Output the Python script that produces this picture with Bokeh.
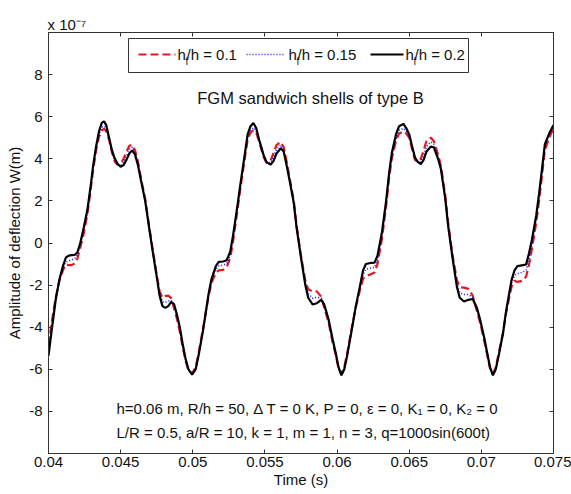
from bokeh.plotting import figure
from bokeh.models import (Range1d, FixedTicker, LinearAxis, Label, BoxAnnotation, Arrow, Title)
from bokeh.embed import file_html
from bokeh.resources import INLINE

# ---------------- data (deflection in units of 1e-7 m) ----------------
t = [0.04000, 0.04025, 0.04050, 0.04075, 0.04100, 0.04120, 0.04140, 0.04160, 0.04180, 0.04200,
     0.04220, 0.04245, 0.04270, 0.04290, 0.04310, 0.04330, 0.04350, 0.04370, 0.04385, 0.04400,
     0.04420, 0.04440, 0.04460, 0.04480, 0.04500, 0.04520, 0.04540, 0.04560, 0.04580, 0.04600,
     0.04620, 0.04640, 0.04670, 0.04700, 0.04720, 0.04750, 0.04770, 0.04790, 0.04810, 0.04830,
     0.04850, 0.04870, 0.04890, 0.04910, 0.04930, 0.04950, 0.04970, 0.04995, 0.05020, 0.05040,
     0.05070, 0.05090, 0.05110, 0.05130, 0.05160, 0.05180, 0.05210, 0.05235, 0.05260, 0.05280,
     0.05310, 0.05330, 0.05360, 0.05380, 0.05400, 0.05420, 0.05440, 0.05460, 0.05490, 0.05510,
     0.05540, 0.05560, 0.05580, 0.05610, 0.05630, 0.05650, 0.05670, 0.05700, 0.05720, 0.05750,
     0.05780, 0.05800, 0.05830, 0.05860, 0.05890, 0.05910, 0.05940, 0.05970, 0.05990, 0.06010,
     0.06030, 0.06050, 0.06070, 0.06100, 0.06130, 0.06160, 0.06180, 0.06200, 0.06230, 0.06260,
     0.06280, 0.06310, 0.06340, 0.06360, 0.06380, 0.06410, 0.06430, 0.06460, 0.06480, 0.06500,
     0.06520, 0.06540, 0.06560, 0.06580, 0.06600, 0.06620, 0.06650, 0.06670, 0.06700, 0.06720,
     0.06750, 0.06770, 0.06800, 0.06830, 0.06850, 0.06880, 0.06910, 0.06940, 0.06970, 0.06990,
     0.07020, 0.07040, 0.07060, 0.07080, 0.07100, 0.07120, 0.07150, 0.07170, 0.07190, 0.07210,
     0.07230, 0.07250, 0.07280, 0.07310, 0.07330, 0.07350, 0.07380, 0.07400, 0.07420, 0.07440,
     0.07470, 0.07500]

w_hf_02 = [-5.35, -4.00, -2.70, -1.75, -1.10, -0.70, -0.60, -0.58, -0.57, -0.45,
           0.00, 0.75, 1.60, 2.60, 3.70, 4.60, 5.30, 5.72, 5.78, 5.60,
           5.00, 4.40, 4.00, 3.75, 3.62, 3.70, 3.95, 4.25, 4.40, 4.20,
           3.70, 3.00, 2.00, 0.60, -0.30, -1.60, -2.50, -3.00, -3.08, -3.00,
           -2.80, -2.90, -3.40, -4.00, -4.80, -5.50, -6.00, -6.25, -6.00, -5.35,
           -4.20, -3.30, -2.40, -1.70, -1.10, -0.90, -0.88, -0.82, -0.40, 0.40,
           1.80, 2.80, 4.20, 5.16, 5.55, 5.70, 5.45, 4.90, 4.20, 3.85,
           3.72, 3.90, 4.25, 4.50, 4.35, 3.70, 3.00, 1.90, 0.70, -0.70,
           -2.00, -2.60, -2.92, -2.86, -2.70, -2.90, -3.60, -4.60, -5.20, -5.90,
           -6.29, -6.00, -5.35, -4.20, -3.00, -2.00, -1.30, -1.00, -0.95, -0.93,
           -0.60, 0.46, 2.00, 3.28, 4.30, 5.20, 5.55, 5.66, 5.45, 5.16,
           4.60, 4.06, 3.85, 3.75, 3.95, 4.35, 4.58, 4.55, 4.00, 3.50,
           2.10, 0.80, -0.70, -2.06, -2.60, -2.78, -2.70, -2.66, -3.10, -3.60,
           -4.50, -5.20, -5.90, -6.29, -6.00, -5.35, -4.30, -3.30, -2.50, -1.74,
           -1.30, -1.10, -1.06, -1.02, -0.50, 0.14, 1.30, 2.34, 3.50, 4.69,
           5.20, 5.60]

w_hf_015 = [-5.05, -3.80, -2.62, -1.78, -1.20, -0.90, -0.85, -0.80, -0.75, -0.58,
            -0.12, 0.60, 1.50, 2.50, 3.60, 4.50, 5.15, 5.50, 5.56, 5.45,
            4.95, 4.35, 3.92, 3.70, 3.66, 3.85, 4.15, 4.45, 4.55, 4.30,
            3.78, 3.08, 2.05, 0.65, -0.25, -1.55, -2.40, -2.80, -2.82, -2.76,
            -2.72, -3.00, -3.50, -4.10, -4.90, -5.55, -6.02, -6.22, -5.95, -5.30,
            -4.15, -3.30, -2.45, -1.80, -1.25, -1.10, -1.05, -0.98, -0.55, 0.25,
            1.68, 2.70, 4.10, 5.00, 5.38, 5.48, 5.30, 4.85, 4.15, 3.82,
            3.80, 4.10, 4.45, 4.65, 4.45, 3.80, 3.08, 1.95, 0.75, -0.65,
            -1.90, -2.40, -2.62, -2.58, -2.62, -2.98, -3.68, -4.68, -5.25, -5.92,
            -6.25, -5.95, -5.30, -4.15, -3.02, -2.10, -1.50, -1.25, -1.20, -1.15,
            -0.80, 0.30, 1.88, 3.15, 4.15, 5.00, 5.35, 5.45, 5.30, 5.05,
            4.52, 4.00, 3.82, 3.85, 4.15, 4.58, 4.80, 4.70, 4.10, 3.58,
            2.18, 0.88, -0.62, -1.90, -2.35, -2.45, -2.45, -2.58, -3.18, -3.68,
            -4.58, -5.25, -5.92, -6.25, -5.95, -5.30, -4.28, -3.35, -2.60, -1.90,
            -1.55, -1.45, -1.40, -1.30, -0.80, -0.10, 1.10, 2.15, 3.35, 4.55,
            5.10, 5.50]

w_hf_01 = [-4.85, -3.65, -2.58, -1.82, -1.30, -1.02, -1.05, -1.05, -0.98, -0.75,
           -0.22, 0.48, 1.40, 2.40, 3.50, 4.40, 5.05, 5.35, 5.42, 5.32,
           4.90, 4.30, 3.86, 3.70, 3.76, 4.00, 4.32, 4.62, 4.66, 4.40,
           3.85, 3.12, 2.10, 0.70, -0.20, -1.50, -2.30, -2.60, -2.52, -2.50,
           -2.62, -3.10, -3.60, -4.20, -4.95, -5.60, -6.05, -6.20, -5.90, -5.25,
           -4.10, -3.30, -2.50, -1.90, -1.40, -1.30, -1.28, -1.15, -0.70, 0.12,
           1.58, 2.60, 4.00, 4.90, 5.25, 5.35, 5.22, 4.82, 4.10, 3.82,
           3.92, 4.28, 4.65, 4.80, 4.55, 3.88, 3.15, 2.00, 0.80, -0.60,
           -1.80, -2.20, -2.30, -2.30, -2.55, -3.05, -3.75, -4.75, -5.30, -5.95,
           -6.22, -5.90, -5.25, -4.10, -3.05, -2.20, -1.70, -1.55, -1.50, -1.40,
           -1.00, 0.15, 1.75, 3.05, 4.05, 4.90, 5.20, 5.30, 5.20, 5.00,
           4.45, 3.95, 3.85, 4.00, 4.40, 4.85, 5.00, 4.85, 4.20, 3.65,
           2.25, 0.95, -0.55, -1.75, -2.10, -2.12, -2.18, -2.50, -3.25, -3.75,
           -4.65, -5.30, -5.95, -6.22, -5.90, -5.25, -4.25, -3.40, -2.70, -2.05,
           -1.80, -1.85, -1.80, -1.60, -1.05, -0.30, 0.95, 2.00, 3.20, 4.40,
           5.00, 5.45]

series_labels = ["0.1", "0.15", "0.2"]
xticks = [0.04, 0.045, 0.05, 0.055, 0.06, 0.065, 0.07, 0.075]
xtick_labels = ["0.04", "0.045", "0.05", "0.055", "0.06", "0.065", "0.07", "0.075"]
yticks = [-8, -6, -4, -2, 0, 2, 4, 6, 8]
ytick_labels = ["-8", "-6", "-4", "-2", "0", "2", "4", "6", "8"]

FONT = "Liberation Sans"
W, H = 571, 494
FL, FR, FT, FB = 48, 553, 32, 453   # frame edges (pixels)
X0, X1, Y0, Y1 = 0.04, 0.075, -10.0, 10.0

def sx(px):
    return X0 + (px - FL) * (X1 - X0) / (FR - FL)

def sy(py):
    return Y1 - (py - FT) * (Y1 - Y0) / (FB - FT)

p = figure(width=W, height=H, output_backend="svg", toolbar_location=None,
           x_range=Range1d(X0, X1), y_range=Range1d(Y0, Y1),
           min_border_left=FL, min_border_right=W - FR,
           min_border_top=FT, min_border_bottom=H - FB)
p.background_fill_color = "white"
p.border_fill_color = "white"
p.xgrid.visible = False
p.ygrid.visible = False
p.outline_line_color = "#333333"
p.outline_line_width = 1

RED, BLUE, BLACK = "#dd1a22", "#1a1aff", "#000000"
p.line(t, w_hf_01, line_color=RED, line_width=2.2, line_dash="8 4")
p.line(t, w_hf_015, line_color=BLUE, line_width=1.6, line_dash="1 2")
p.line(t, w_hf_02, line_color=BLACK, line_width=2.2)

xa = p.xaxis[0]
xa.ticker = FixedTicker(ticks=xticks)
xa.major_label_overrides = {v: s for v, s in zip(xticks, xtick_labels)}
xa.axis_label = "Time (s)"
xa.major_label_standoff = 3
xa.axis_label_standoff = 1
ya = p.yaxis[0]
ya.ticker = FixedTicker(ticks=yticks)
ya.major_label_overrides = {v: s for v, s in zip(yticks, ytick_labels)}
ya.axis_label = "Amplitude of deflection W(m)"
ya.major_label_standoff = 6
ya.axis_label_standoff = 3
for ax in (xa, ya):
    ax.major_tick_in = 4
    ax.major_tick_out = 0
    ax.minor_tick_in = 0
    ax.minor_tick_out = 0
    ax.axis_line_color = "#333333"
    ax.major_tick_line_color = "#333333"
    ax.major_label_text_font = FONT
    ax.major_label_text_color = "#111111"
    ax.major_label_text_font_size = "15px"
    ax.axis_label_text_font = FONT
    ax.axis_label_text_font_style = "normal"
    ax.axis_label_text_color = "#111111"
    ax.axis_label_text_font_size = "15px"

top = LinearAxis(ticker=FixedTicker(ticks=xticks),
                 major_label_overrides={v: "" for v in xticks})
right = LinearAxis(ticker=FixedTicker(ticks=yticks),
                   major_label_overrides={v: "" for v in yticks})
for ax in (top, right):
    ax.major_tick_in = 4
    ax.major_tick_out = 0
    ax.minor_tick_in = 0
    ax.minor_tick_out = 0
    ax.axis_line_color = "#333333"
    ax.major_tick_line_color = "#333333"
    ax.major_label_standoff = 0
p.add_layout(top, "above")
p.add_layout(right, "right")

# exponent marker above the axes
expo = Title(text="x 10\u207b\u2077", align="left", text_font=FONT,
             text_font_size="15px", text_font_style="normal", text_color="#111111",
             standoff=0, offset=-1)
p.add_layout(expo, "above")

def lab(px, py, text, size="15px", align="left", baseline="middle"):
    p.add_layout(Label(x=sx(px), y=sy(py), text=text, text_font=FONT,
                       text_font_size=size, text_align=align,
                       text_baseline=baseline, text_color="#111111"))

# title inside the axes
lab(310, 97, "FGM sandwich shells of type B", size="16.5px", align="center")

# parameter annotations
lab(116, 408, "h=0.06 m, R/h = 50, \u0394 T = 0 K, P = 0, \u03b5 = 0, K\u2081 = 0, K\u2082 = 0", size="15px")
lab(116, 432, "L/R = 0.5, a/R = 10, k = 1, m = 1, n = 3, q=1000sin(600t)", size="15px")

# legend box
p.add_layout(BoxAnnotation(left=sx(128), right=sx(468), top=sy(38), bottom=sy(72),
                           fill_color="white", fill_alpha=1.0,
                           line_color="#333333", line_width=1, line_alpha=1.0))
legend_items = [
    (138, 175, 177, RED, 2.2, "8 4", series_labels[0]),
    (246, 284, 288, BLUE, 1.6, "1 2", series_labels[1]),
    (370, 403, 405, BLACK, 2.2, "solid", series_labels[2]),
]
for x0, x1, tx, col, lw, dash, val in legend_items:
    p.add_layout(Arrow(end=None, x_start=sx(x0), y_start=sy(54), x_end=sx(x1), y_end=sy(54),
                       line_color=col, line_width=lw, line_dash=dash))
    lab(tx, 54, "h", size="15px")
    lab(tx + 8, 61, "f", size="10px")
    lab(tx + 9, 54, "/h = " + val, size="15px")

open("out.html", "w").write(file_html(p, INLINE))
